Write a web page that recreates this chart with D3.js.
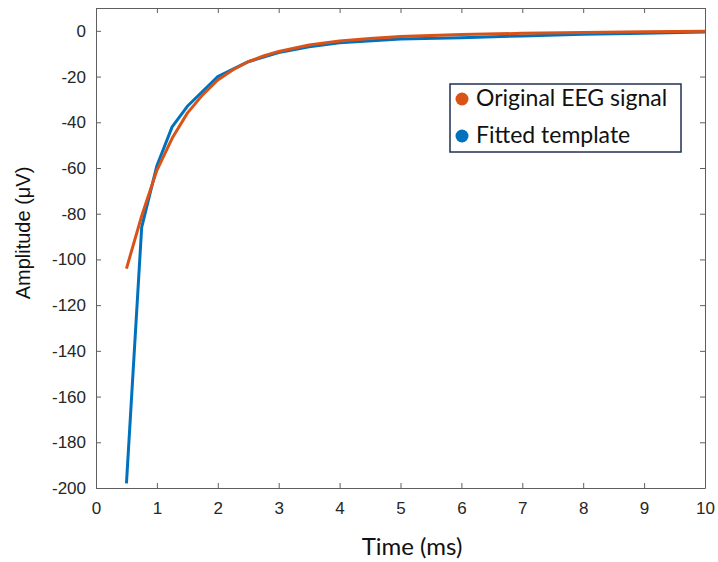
<!DOCTYPE html>
<html>
<head>
<meta charset="utf-8">
<script src="https://cdn.jsdelivr.net/npm/d3@7"></script>
<style>
  body { margin: 0; background: #fff; }
  .tick text { font-family: "Liberation Sans", Arial, sans-serif; font-size: 17px; fill: #262626; }
</style>
</head>
<body>
<div id="chart"></div>
<script>
// time (ms) and amplitude (uV)
const timeOrig = [0.5, 0.75, 1.0, 1.25, 1.5, 1.75, 2.0, 2.25, 2.5, 2.75, 3.0, 3.5, 4.0, 4.5, 5.0, 6.0, 7.0, 8.0, 9.0, 10.0];
const ampOrig  = [-104, -81, -61, -47, -36, -28, -21.5, -17, -13.5, -11, -9, -6.2, -4.4, -3.3, -2.5, -1.6, -1.1, -0.7, -0.4, -0.2];

const timeFit = [0.5, 0.75, 1.0, 1.25, 1.5, 2.0, 2.5, 3.0, 3.5, 4.0, 5.0, 6.0, 7.0, 8.0, 9.0, 10.0];
const ampFit  = [-198, -86, -59, -42, -33, -20, -13.5, -9.5, -7, -5.2, -3.6, -3, -2.2, -1.5, -1, -0.5];

const xTicks = [0, 1, 2, 3, 4, 5, 6, 7, 8, 9, 10];
const yTicks = [0, -20, -40, -60, -80, -100, -120, -140, -160, -180, -200];

const seriesNames = ["Original EEG signal", "Fitted template"];
const seriesColors = ["#D95319", "#0072BD"];

const width = 718, height = 562;
const margin = {left: 96, right: 13, top: 8, bottom: 74};
const plotW = width - margin.left - margin.right,
      plotH = height - margin.top - margin.bottom;

const svg = d3.select('#chart').append('svg')
    .attr('width', width)
    .attr('height', height);

const g = svg.append('g')
    .attr('transform', 'translate(' + margin.left + ',' + margin.top + ')');

const x = d3.scaleLinear().domain([0, 10]).range([0, plotW]);
const y = d3.scaleLinear().domain([-200, 10]).range([plotH, 0]);

const axisColor = '#5f5f5f';

// axes (ticks inside, matlab style)
const xAxis = g.append('g')
    .attr('transform', 'translate(0,' + plotH + ')')
    .call(d3.axisBottom(x).tickValues(xTicks).tickSizeInner(-5).tickSizeOuter(0).tickPadding(14));
const xTop = g.append('g')
    .call(d3.axisTop(x).tickValues(xTicks).tickSizeInner(-5).tickSizeOuter(0).tickFormat(''));
const yAxis = g.append('g')
    .call(d3.axisLeft(y).tickValues(yTicks).tickSizeInner(-5).tickSizeOuter(0).tickPadding(10));
const yRight = g.append('g')
    .attr('transform', 'translate(' + plotW + ',0)')
    .call(d3.axisRight(y).tickValues(yTicks).tickSizeInner(-5).tickSizeOuter(0).tickFormat(''));

[xAxis, xTop, yAxis, yRight].forEach(a => {
  a.selectAll('path').attr('stroke', axisColor);
  a.selectAll('line').attr('stroke', axisColor);
});
yAxis.selectAll('text').text(d => d < 0 ? '-' + Math.abs(d) : d);

// lines
const line = d3.line().x(d => x(d[0])).y(d => y(d[1]));

const fitPts = timeFit.map((t, i) => [t, ampFit[i]]);
const origPts = timeOrig.map((t, i) => [t, ampOrig[i]]);

g.append('path')
    .datum(fitPts)
    .attr('d', line)
    .attr('fill', 'none')
    .attr('stroke', seriesColors[1])
    .attr('stroke-width', 3)
    .attr('stroke-linejoin', 'round');

g.append('path')
    .datum(origPts)
    .attr('d', line)
    .attr('fill', 'none')
    .attr('stroke', seriesColors[0])
    .attr('stroke-width', 3)
    .attr('stroke-linejoin', 'round');

// axis labels
svg.append('text')
    .attr('x', 412)
    .attr('y', 555)
    .attr('text-anchor', 'middle')
    .style('font-family', 'Lato, "Open Sans", sans-serif')
    .style('font-size', '24px')
    .style('fill', '#111')
    .text('Time (ms)');

svg.append('text')
    .attr('transform', 'translate(30,233) rotate(-90)')
    .attr('text-anchor', 'middle')
    .style('font-family', '"Liberation Sans", Arial, sans-serif')
    .style('font-size', '20px')
    .style('fill', '#111')
    .text('Amplitude (μV)');

// legend
const legend = svg.append('g');
legend.append('rect')
    .attr('x', 450).attr('y', 84)
    .attr('width', 231).attr('height', 68)
    .attr('fill', '#fff')
    .attr('stroke', '#1f3050')
    .attr('stroke-width', 1.5);

seriesNames.forEach((name, i) => {
  const cy = 99 + i * 37;
  legend.append('circle')
      .attr('cx', 462).attr('cy', cy).attr('r', 6.5)
      .attr('fill', seriesColors[i]);
  legend.append('text')
      .attr('x', 476).attr('y', cy + 7)
      .style('font-family', 'Lato, "Open Sans", sans-serif')
      .style('font-size', '23px')
      .style('fill', '#111')
      .text(name);
});
</script>
</body>
</html>
